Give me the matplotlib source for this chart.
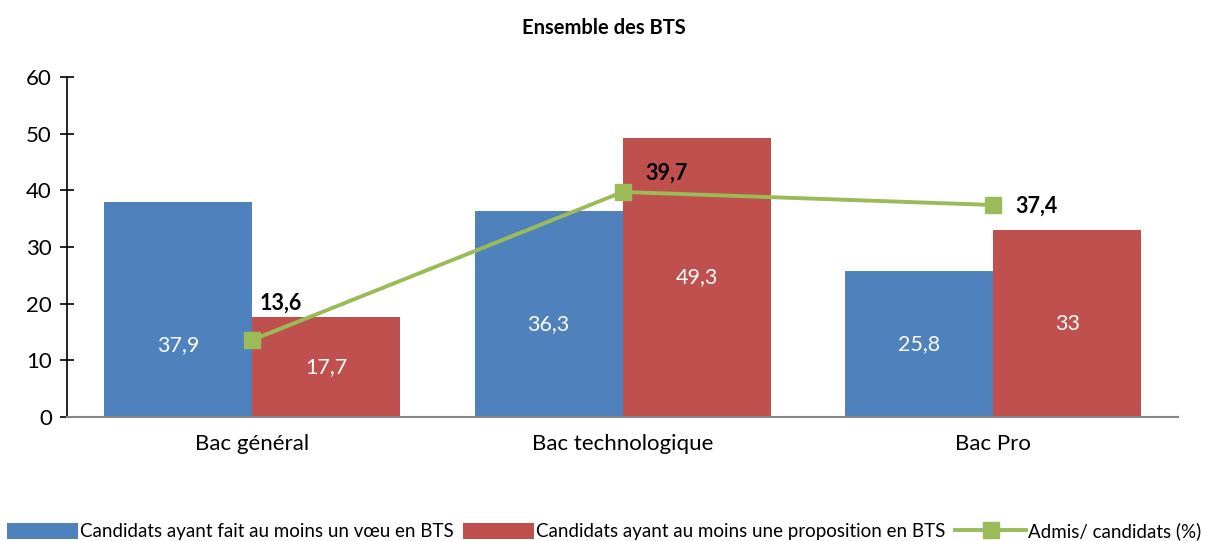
import numpy as np
import matplotlib.pyplot as plt

plt.rcParams['font.family'] = ['Lato', 'DejaVu Sans']

categories = ["Bac général", "Bac technologique", "Bac Pro"]
voeu = [37.9, 36.3, 25.8]
proposition = [17.7, 49.3, 33]
admis = [13.6, 39.7, 37.4]

blue = "#4F81BD"
red = "#C0504D"
green = "#9BBB59"

fig = plt.figure(figsize=(12.08, 5.41), dpi=100)
ax = fig.add_axes([0.0555, 0.229, 0.92, 0.629])

x = np.arange(len(categories))
w = 0.4
b1 = ax.bar(x - w / 2, voeu, width=w, color=blue, label="Candidats ayant fait au moins un vœu en BTS")
b2 = ax.bar(x + w / 2, proposition, width=w, color=red, label="Candidats ayant au moins une proposition en BTS")
ln, = ax.plot(x, admis, color=green, lw=2.8, marker="s", markersize=11, label="Admis/ candidats (%)")

# labels inside bars (positions as in the original)
blue_label_y = [12.7, 16.4, 12.9]
for xi, v, ly in zip(x, voeu, blue_label_y):
    ax.text(xi - w / 2, ly, f"{v:g}".replace(".", ","), color="white", fontsize=15.5,
            ha="center", va="center")
for xi, v in zip(x, proposition):
    ax.text(xi + w / 2, v / 2, f"{v:g}".replace(".", ","), color="white", fontsize=15.5,
            ha="center", va="center")

line_offsets = [(0.02, 6.5), (0.06, 3.3), (0.06, -0.2)]
for xi, v, (dx, dy) in zip(x, admis, line_offsets):
    ax.text(xi + dx, v + dy, f"{v:g}".replace(".", ","), color="black", fontsize=15.5,
            fontweight="bold", ha="left", va="center")

ax.set_xlim(-0.5, 2.5)
ax.set_ylim(0, 60)
ax.set_yticks(range(0, 61, 10))
ax.set_xticks(x)
ax.set_xticklabels(categories, fontsize=16)
ax.tick_params(axis="y", labelsize=16, direction="inout", length=10, width=1.2, pad=6)
ax.tick_params(axis="x", length=0, pad=12)
ax.spines["top"].set_visible(False)
ax.spines["right"].set_visible(False)
ax.spines["left"].set_linewidth(1.2)
ax.spines["bottom"].set_color("#868686")
ax.spines["bottom"].set_linewidth(1.5)

fig.text(0.5, 0.948, "Ensemble des BTS", ha="center", va="center", fontsize=14.5, fontweight="bold")

fig.legend(handles=[b1, b2, ln], loc="center", bbox_to_anchor=(0.5, 0.018), ncol=3, frameon=False,
           fontsize=13.5, handlelength=3.8, handleheight=0.9, handletextpad=0.1, columnspacing=0.5)

fig.savefig("out.png", dpi=100)
